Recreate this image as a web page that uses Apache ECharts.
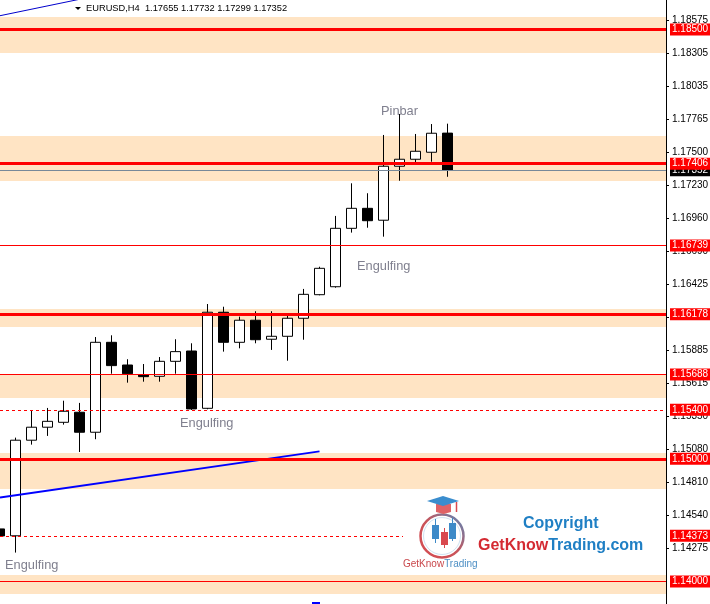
<!DOCTYPE html>
<html>
<head>
<meta charset="utf-8">
<script src="https://cdn.jsdelivr.net/npm/echarts@6/dist/echarts.min.js"></script>
<style>
html, body { margin: 0; padding: 0; background: #fff; }
#main { width: 710px; height: 604px; }
</style>
</head>
<body>
<div id="main"></div>
<script>
// EURUSD H4 candles, oldest first (the first one is cut by the left edge)
var symbolName = 'EURUSD,H4';
var opens  = [1.14429, 1.14373, 1.15152, 1.15258, 1.15298, 1.15380, 1.15217, 1.15950, 1.15765, 1.15686,
              1.15673, 1.15795, 1.15879, 1.15412, 1.16195, 1.15950, 1.16130, 1.15975, 1.15999, 1.16146,
              1.16338, 1.16403, 1.16879, 1.17042, 1.16945, 1.17385, 1.17442, 1.17499, 1.17655];
var closes = [1.14372, 1.15152, 1.15258, 1.15306, 1.15388, 1.15217, 1.15950, 1.15760, 1.15694, 1.15670,
              1.15795, 1.15874, 1.15407, 1.16195, 1.15950, 1.16130, 1.15971, 1.15999, 1.16146, 1.16341,
              1.16553, 1.16879, 1.17042, 1.16941, 1.17385, 1.17442, 1.17507, 1.17654, 1.17352];
var lows   = [1.14363, 1.14236, 1.15116, 1.15187, 1.15279, 1.15056, 1.15160, 1.15694, 1.15621, 1.15629,
              1.15629, 1.15694, 1.15399, 1.15404, 1.15874, 1.15901, 1.15942, 1.15888, 1.15800, 1.15971,
              1.16333, 1.16395, 1.16844, 1.16884, 1.16811, 1.17267, 1.17414, 1.17422, 1.17299];
var highs  = [1.14437, 1.15173, 1.15396, 1.15415, 1.15474, 1.15456, 1.15993, 1.16007, 1.15812, 1.15773,
              1.15830, 1.15975, 1.15942, 1.16262, 1.16240, 1.16159, 1.16203, 1.16203, 1.16165, 1.16385,
              1.16566, 1.16980, 1.17246, 1.17165, 1.17640, 1.17811, 1.17648, 1.17729, 1.17732];

// price scale labels on the right
var tickValues = [1.14275, 1.14540, 1.14810, 1.15080, 1.15350, 1.15615, 1.15885, 1.16155, 1.16425,
                  1.16690, 1.16960, 1.17230, 1.17500, 1.17765, 1.18035, 1.18305, 1.18575];

// horizontal levels
var thickLevels  = [1.18500, 1.17406, 1.16178, 1.15000];
var thinLevels   = [1.16739, 1.15688, 1.14000];
var dashedLevels = [1.15400, 1.14373];
var bidPrice = 1.17352;

// support / resistance zones [low, high]
var zones = [[1.18308, 1.18601], [1.17265, 1.17632], [1.16075, 1.16222],
             [1.15496, 1.15692], [1.14755, 1.15048], [1.13899, 1.14054]];

// trend lines: [bar index, price]
var trendMain = [[0.03125, 1.14684], [20, 1.15061]];
var trendTop  = [[0.03125, 1.18612], [9.5, 1.18867]];

// text notes on the chart
var notes = [
    {text: 'Pinbar',    x: 381, y: 111},
    {text: 'Engulfing', x: 357, y: 266},
    {text: 'Engulfing', x: 180, y: 423},
    {text: 'Engulfing', x: 5,   y: 565}
];

(function(){
    var myChart = echarts.init(document.getElementById('main'));
    var fmt = function(v){ return Number(v).toFixed(5); };

    var candles = [];
    for (var i = 0; i < opens.length; i++) {
        candles.push([i, opens[i], closes[i], lows[i], highs[i]]);
    }

    var priceLabel = function(bg){
        return {
            show: true, position: 'end', distance: 4,
            formatter: function(p){ return fmt(p.value); },
            color: '#fff', backgroundColor: bg,
            fontFamily: 'Liberation Sans', fontSize: 10, lineHeight: 11,
            padding: [1, 2, 0, 2]
        };
    };

    var lines = [];
    lines.push({yAxis: bidPrice, lineStyle: {color: '#778899', width: 1, type: 'solid'}, label: priceLabel('#000')});
    thickLevels.forEach(function(v){
        lines.push({yAxis: v, lineStyle: {color: '#ff0000', width: 3, type: 'solid'}, label: priceLabel('#ff0000')});
    });
    thinLevels.forEach(function(v){
        lines.push({yAxis: v, lineStyle: {color: '#ff0000', width: 1, type: 'solid'}, label: priceLabel('#ff0000')});
    });
    dashedLevels.forEach(function(v){
        lines.push({yAxis: v, lineStyle: {color: '#ff0000', width: 1, type: [3, 3]}, label: priceLabel('#ff0000')});
    });

    var areas = zones.map(function(z){
        return [{yAxis: z[0]}, {yAxis: z[1]}];
    });

    var last = opens.length - 1;
    var header = symbolName + '  ' + [opens[last], highs[last], lows[last], closes[last]].map(fmt).join(' ');

    var graphics = [
        {type: 'polygon', shape: {points: [[75, 7], [81, 7], [78, 10]]}, style: {fill: '#000'}},
        {type: 'text', x: 86, y: 8, style: {text: header, fill: '#000', font: '9.3px "Liberation Sans"', verticalAlign: 'middle'}}
    ];
    notes.forEach(function(n){
        graphics.push({type: 'text', x: n.x, y: n.y,
            style: {text: n.text, fill: '#80808f', font: '12.8px "Liberation Sans"', verticalAlign: 'middle'}});
    });

    // watermark logo (white box hides the line behind it)
    graphics.push(
        {type: 'rect', shape: {x: 403, y: 491, width: 261, height: 83}, style: {fill: '#fff'}},
        {type: 'circle', shape: {cx: 442, cy: 536, r: 21.5},
            style: {fill: 'none', lineWidth: 2.5,
                stroke: new echarts.graphic.LinearGradient(0, 1, 1, 0, [
                    {offset: 0, color: '#d84a50'}, {offset: 0.5, color: '#c8545a'}, {offset: 1, color: '#4a8fc6'}])}},
        {type: 'circle', shape: {cx: 442, cy: 536, r: 18.5}, style: {fill: 'none', stroke: '#cfe2f2', lineWidth: 1}},
        {type: 'line', shape: {x1: 435.5, y1: 519, x2: 435.5, y2: 543}, style: {stroke: '#3d8ac8', lineWidth: 1}},
        {type: 'rect', shape: {x: 432, y: 525, width: 7, height: 14}, style: {fill: '#3d8ac8'}},
        {type: 'line', shape: {x1: 444.5, y1: 528, x2: 444.5, y2: 548}, style: {stroke: '#d9484e', lineWidth: 1}},
        {type: 'rect', shape: {x: 441, y: 532, width: 7, height: 13}, style: {fill: '#d9484e'}},
        {type: 'line', shape: {x1: 452.5, y1: 518, x2: 452.5, y2: 541}, style: {stroke: '#3d8ac8', lineWidth: 1}},
        {type: 'rect', shape: {x: 449, y: 523, width: 7, height: 16}, style: {fill: '#3d8ac8'}},
        {type: 'polygon', shape: {points: [[436, 504], [451, 504], [451, 512], [443.5, 514], [436, 512]]}, style: {fill: '#e06266'}},
        {type: 'polygon', shape: {points: [[427, 501], [443, 496], [459, 501], [443, 506]]}, style: {fill: '#3a8dce'}},
        {type: 'line', shape: {x1: 456.5, y1: 502, x2: 456.5, y2: 512}, style: {stroke: '#d9484e', lineWidth: 1.5}},
        {type: 'text', x: 403, y: 564, style: {
            text: '{a|GetKnow}{b|Trading}',
            verticalAlign: 'middle',
            rich: {
                a: {fill: '#c9474b', font: '10px "Liberation Sans"'},
                b: {fill: '#4d8fc4', font: '10px "Liberation Sans"'}
            }}},
        {type: 'text', x: 523, y: 524, style: {text: 'Copyright', fill: '#1f7fc4', font: 'bold 16px "Liberation Sans"', verticalAlign: 'middle'}},
        {type: 'text', x: 478, y: 546, style: {
            text: '{a|GetKnow}{b|Trading.com}',
            verticalAlign: 'middle',
            rich: {
                a: {fill: '#d42a32', font: 'bold 16px "Liberation Sans"'},
                b: {fill: '#1f7fc4', font: 'bold 16px "Liberation Sans"'}
            }}},
        {type: 'rect', shape: {x: 312, y: 602, width: 8, height: 2}, style: {fill: '#0000ff'}}
    );
    graphics.forEach(function(g){ g.z = 100; });

    var option = {
        animation: false,
        backgroundColor: '#fff',
        grid: {left: 0, right: 44, top: 0, bottom: 0, outerBoundsMode: 'none'},
        xAxis: {
            type: 'value',
            min: 0.03125,
            max: 41.65625,
            show: false
        },
        yAxis: {
            type: 'value',
            position: 'right',
            min: 1.13817,
            max: 1.18740,
            splitLine: {show: false},
            axisLine: {show: true, lineStyle: {color: '#000', width: 1}},
            axisTick: {show: true, length: 3, customValues: tickValues, lineStyle: {color: '#000'}},
            axisLabel: {
                customValues: tickValues,
                margin: 6,
                color: '#000',
                fontFamily: 'Liberation Sans',
                fontSize: 10,
                formatter: fmt
            }
        },
        series: [
            {
                name: symbolName,
                type: 'candlestick',
                data: candles,
                encode: {x: 0, y: [1, 2, 3, 4]},
                barWidth: 10,
                itemStyle: {
                    color: '#fff',
                    color0: '#000',
                    borderColor: '#000',
                    borderColor0: '#000',
                    borderWidth: 1
                },
                markArea: {
                    silent: true,
                    itemStyle: {color: '#ffe4c4'},
                    data: areas
                },
                markLine: {
                    silent: true,
                    symbol: ['none', 'none'],
                    precision: 5,
                    data: lines
                }
            },
            {
                type: 'line',
                data: trendMain,
                showSymbol: false,
                z: 4,
                lineStyle: {color: '#0000ff', width: 2}
            },
            {
                type: 'line',
                data: trendTop,
                showSymbol: false,
                z: 4,
                lineStyle: {color: '#0000cc', width: 1}
            }
        ],
        graphic: graphics
    };
    myChart.setOption(option);
})();
</script>
</body>
</html>
